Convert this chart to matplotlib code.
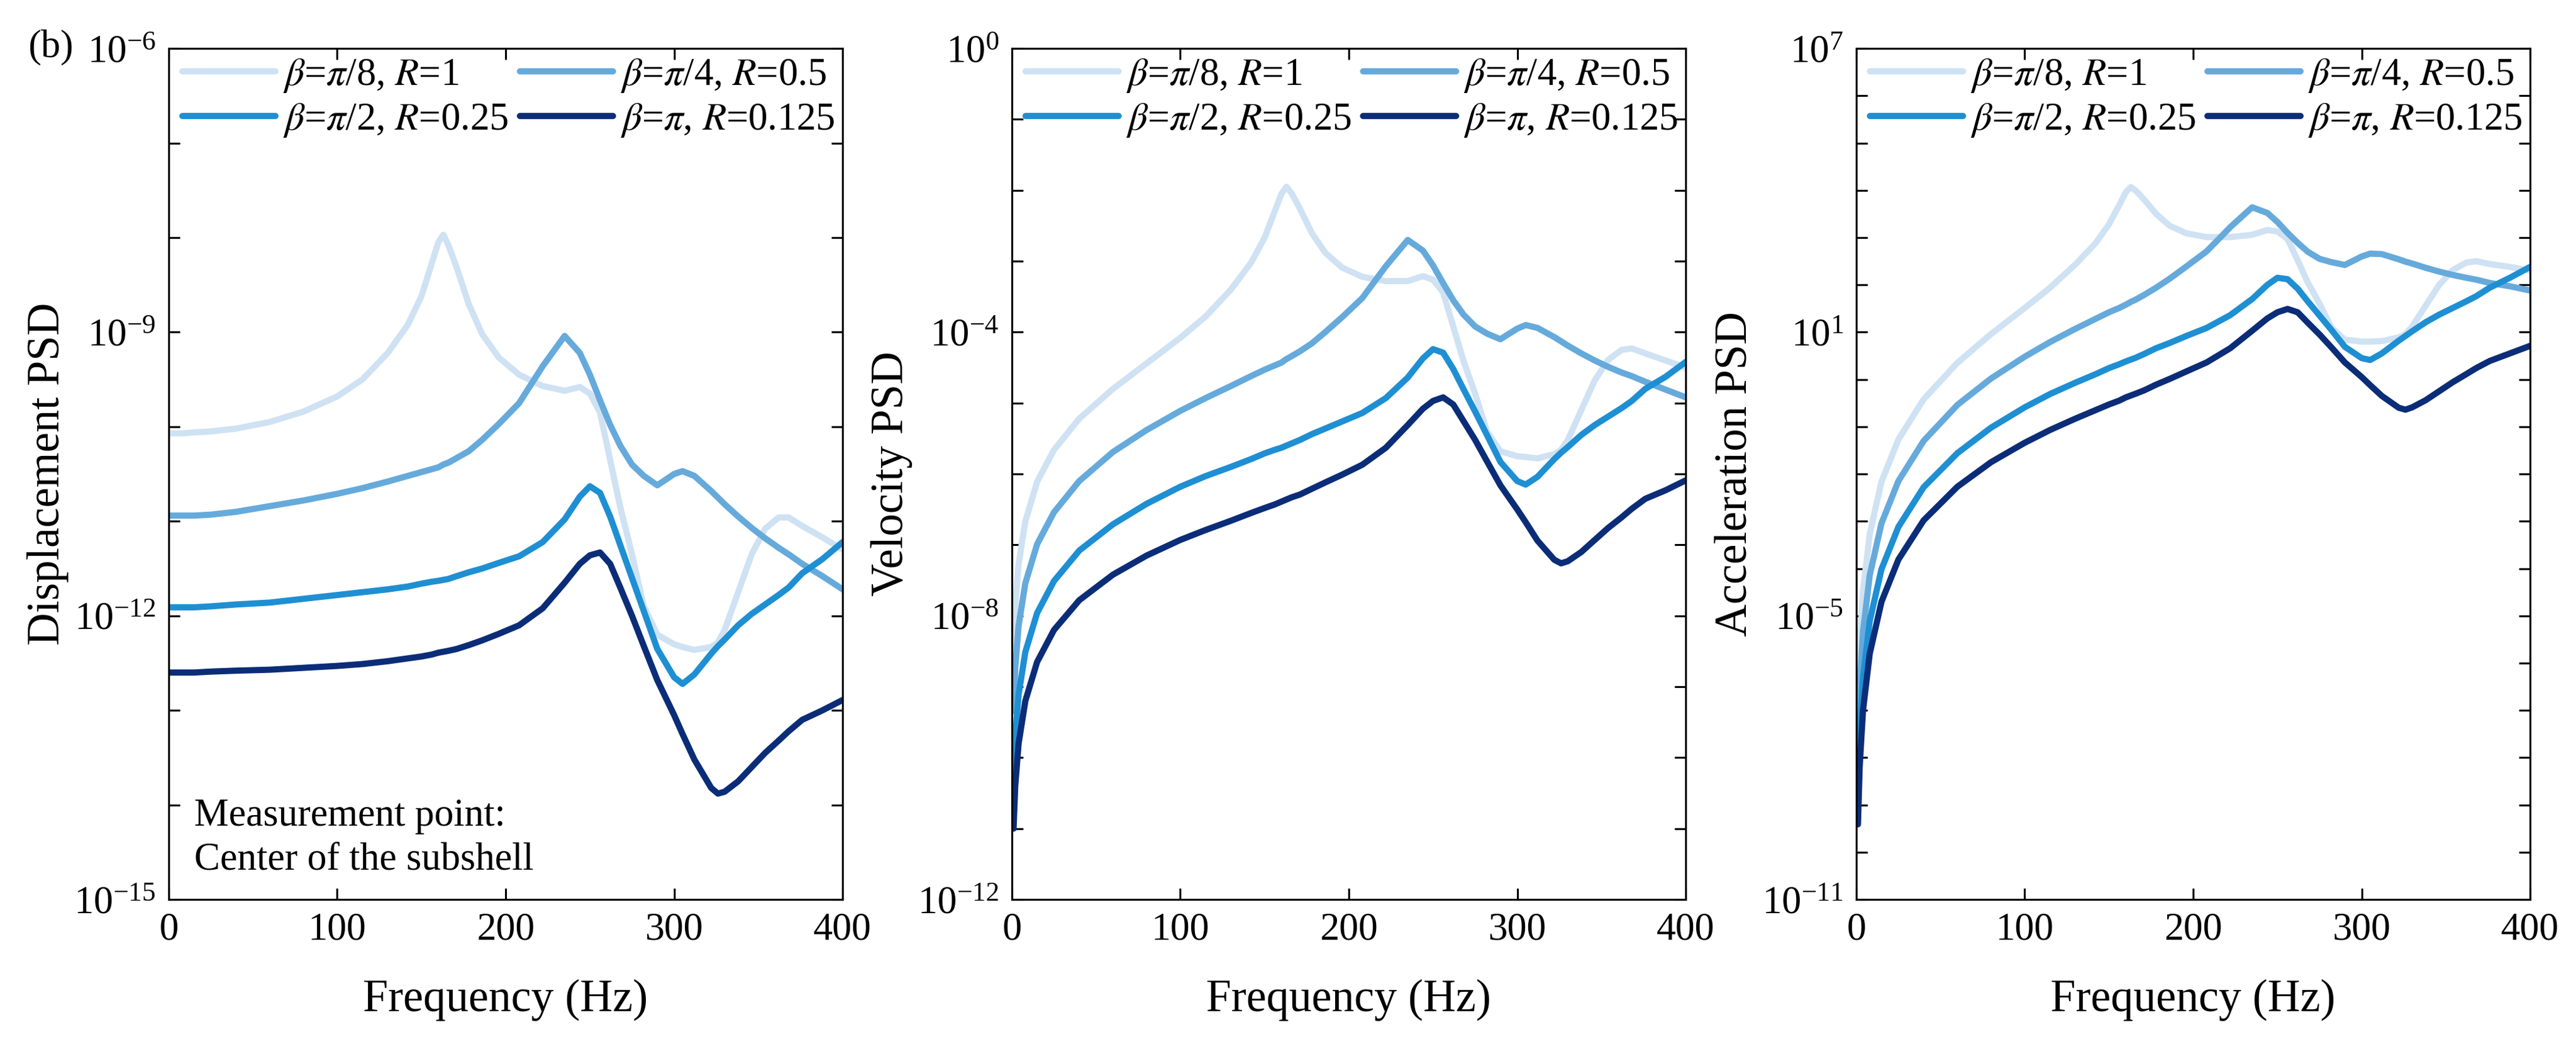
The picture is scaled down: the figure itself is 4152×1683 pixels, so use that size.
import matplotlib
matplotlib.use("Agg")
import matplotlib.pyplot as plt
import numpy as np
from matplotlib.ticker import FixedLocator, NullFormatter

plt.rcParams['font.family'] = ['Liberation Serif', 'DejaVu Serif']
plt.rcParams['mathtext.fontset'] = 'stix'

# frequency grid (Hz) shared by all curves
freq = [1, 2, 4, 8, 15, 25, 40, 60, 80, 100, 115, 130, 142, 150, 156, 160, 163, 166,
        171, 178, 186, 196, 208, 222, 235, 244, 250, 256, 262, 268, 275, 282, 290,
        300, 305, 312, 322, 326, 330, 338, 346, 354, 362, 368, 376, 388, 400]

# values are log10(PSD)
# beta=pi/8, R=1
disp_pi8 = [-10.07, -10.07, -10.07, -10.07, -10.06, -10.05, -10.02, -9.95, -9.84, -9.68, -9.50, -9.22,
            -8.92, -8.62, -8.28, -8.05, -7.97, -8.08, -8.32, -8.70, -9.02, -9.27, -9.45, -9.57, -9.62,
            -9.58, -9.65, -9.85, -10.35, -10.85, -11.35, -11.90, -12.20, -12.30, -12.33, -12.36, -12.33,
            -12.28, -12.15, -11.75, -11.35, -11.08, -10.96, -10.96, -11.05, -11.17, -11.30]
vel_pi8 = [-8.47, -7.87, -7.27, -6.67, -6.11, -5.66, -5.22, -4.80, -4.44, -4.08, -3.78, -3.40,
           -3.02, -2.67, -2.30, -2.05, -1.95, -2.04, -2.26, -2.60, -2.88, -3.09, -3.22, -3.28, -3.28,
           -3.21, -3.26, -3.44, -3.92, -4.40, -4.87, -5.40, -5.68, -5.75, -5.76, -5.78, -5.72,
           -5.66, -5.52, -5.10, -4.68, -4.39, -4.25, -4.23, -4.30, -4.40, -4.50]
acc_pi8 = [-6.88, -5.67, -4.47, -3.27, -2.16, -1.27, -0.42, 0.35, 0.96, 1.51, 1.94, 2.43,
           2.88, 3.28, 3.68, 3.96, 4.07, 3.99, 3.80, 3.50, 3.25, 3.09, 3.01, 3.01, 3.06,
           3.16, 3.13, 2.97, 2.52, 2.05, 1.60, 1.10, 0.84, 0.80, 0.80, 0.81, 0.89,
           0.96, 1.12, 1.56, 2.00, 2.31, 2.47, 2.50, 2.44, 2.38, 2.30]

# beta=pi/4, R=0.5
disp_pi4 = [-10.94, -10.94, -10.94, -10.94, -10.94, -10.93, -10.90, -10.84, -10.78, -10.71, -10.65, -10.58,
            -10.52, -10.48, -10.45, -10.43, -10.40, -10.38, -10.33, -10.26, -10.14, -9.97, -9.75, -9.36, -9.04,
            -9.22, -9.45, -9.72, -9.98, -10.20, -10.40, -10.52, -10.62, -10.50, -10.47, -10.52, -10.68,
            -10.75, -10.82, -10.95, -11.07, -11.18, -11.28, -11.35, -11.45, -11.58, -11.72]
vel_pi4 = [-9.34, -8.74, -8.14, -7.54, -6.99, -6.54, -6.10, -5.69, -5.38, -5.11, -4.93, -4.76,
           -4.62, -4.53, -4.47, -4.43, -4.38, -4.34, -4.27, -4.16, -4.00, -3.79, -3.52, -3.07, -2.70,
           -2.85, -3.06, -3.31, -3.55, -3.75, -3.92, -4.02, -4.10, -3.95, -3.90, -3.94, -4.07,
           -4.13, -4.19, -4.30, -4.40, -4.49, -4.57, -4.62, -4.70, -4.81, -4.92]
acc_pi4 = [-7.75, -6.54, -5.34, -4.14, -3.04, -2.15, -1.30, -0.54, 0.02, 0.48, 0.79, 1.07,
           1.28, 1.42, 1.51, 1.58, 1.64, 1.69, 1.79, 1.94, 2.13, 2.39, 2.71, 3.22, 3.64,
           3.52, 3.33, 3.10, 2.89, 2.70, 2.55, 2.48, 2.42, 2.60, 2.66, 2.65, 2.54,
           2.49, 2.45, 2.36, 2.28, 2.21, 2.15, 2.11, 2.04, 1.97, 1.88]

# beta=pi/2, R=0.25
disp_pi2 = [-11.91, -11.91, -11.91, -11.91, -11.91, -11.90, -11.88, -11.86, -11.82, -11.78, -11.75, -11.72,
            -11.69, -11.66, -11.64, -11.63, -11.62, -11.61, -11.58, -11.54, -11.50, -11.44, -11.37, -11.22, -10.98,
            -10.74, -10.63, -10.70, -10.95, -11.25, -11.60, -11.95, -12.35, -12.65, -12.72, -12.62, -12.40,
            -12.32, -12.25, -12.10, -11.98, -11.88, -11.78, -11.70, -11.55, -11.40, -11.22]
vel_pi2 = [-10.31, -9.71, -9.11, -8.51, -7.96, -7.51, -7.08, -6.71, -6.42, -6.18, -6.03, -5.90,
           -5.79, -5.71, -5.66, -5.63, -5.60, -5.57, -5.52, -5.44, -5.36, -5.26, -5.14, -4.93, -4.64,
           -4.37, -4.24, -4.29, -4.52, -4.80, -5.12, -5.45, -5.83, -6.10, -6.15, -6.04, -5.79,
           -5.70, -5.62, -5.45, -5.31, -5.19, -5.07, -4.97, -4.80, -4.63, -4.42]
acc_pi2 = [-8.72, -7.51, -6.31, -5.11, -4.01, -3.12, -2.28, -1.56, -1.02, -0.59, -0.31, -0.07,
           0.11, 0.24, 0.32, 0.38, 0.42, 0.46, 0.54, 0.66, 0.77, 0.92, 1.09, 1.36, 1.70,
           2.00, 2.15, 2.12, 1.92, 1.65, 1.35, 1.05, 0.69, 0.45, 0.41, 0.55, 0.82,
           0.92, 1.02, 1.21, 1.37, 1.51, 1.65, 1.76, 1.94, 2.15, 2.38]

# beta=pi, R=0.125
disp_pi = [-12.60, -12.60, -12.60, -12.60, -12.60, -12.59, -12.58, -12.57, -12.55, -12.53, -12.51, -12.48,
           -12.45, -12.43, -12.41, -12.39, -12.38, -12.37, -12.35, -12.31, -12.26, -12.19, -12.10, -11.92, -11.65,
           -11.45, -11.36, -11.33, -11.45, -11.70, -12.00, -12.32, -12.68, -13.05, -13.25, -13.52, -13.82,
           -13.88, -13.86, -13.75, -13.60, -13.45, -13.32, -13.22, -13.10, -13.00, -12.89]
vel_pi = [-11.00, -10.40, -9.80, -9.20, -8.65, -8.20, -7.78, -7.42, -7.15, -6.93, -6.79, -6.66,
          -6.55, -6.48, -6.43, -6.39, -6.36, -6.33, -6.29, -6.21, -6.12, -6.01, -5.87, -5.63, -5.31,
          -5.08, -4.97, -4.92, -5.02, -5.25, -5.52, -5.82, -6.16, -6.50, -6.68, -6.94, -7.21,
          -7.26, -7.23, -7.10, -6.93, -6.76, -6.61, -6.49, -6.35, -6.23, -6.09]
acc_pi = [-9.41, -8.20, -7.00, -5.80, -4.70, -3.81, -2.98, -2.27, -1.75, -1.34, -1.07, -0.83,
          -0.65, -0.53, -0.45, -0.38, -0.34, -0.30, -0.23, -0.11, 0.01, 0.17, 0.36, 0.66, 1.03,
          1.29, 1.42, 1.49, 1.42, 1.20, 0.95, 0.68, 0.36, 0.05, -0.12, -0.35, -0.60,
          -0.64, -0.59, -0.44, -0.25, -0.06, 0.11, 0.24, 0.39, 0.55, 0.71]

labels = [r'$\beta$=$\pi$/8, $R$=1', r'$\beta$=$\pi$/4, $R$=0.5',
          r'$\beta$=$\pi$/2, $R$=0.25', r'$\beta$=$\pi$, $R$=0.125']
colors = ['#cfe2f3', '#66aadc', '#1f8fd3', '#0b2d78']

panels = [
    ("Displacement PSD", [disp_pi8, disp_pi4, disp_pi2, disp_pi], (-15, -6), [-15, -12, -9, -6]),
    ("Velocity PSD", [vel_pi8, vel_pi4, vel_pi2, vel_pi], (-12, 0), [-12, -8, -4, 0]),
    ("Acceleration PSD", [acc_pi8, acc_pi4, acc_pi2, acc_pi], (-11, 7), [-11, -5, 1, 7]),
]

fig = plt.figure(figsize=(13.84, 5.61), dpi=300)
lefts = [0.0655, 0.3928, 0.7206]
f = np.array(freq)

for i, (ylab, curves, (lo, hi), labelled) in enumerate(panels):
    ax = fig.add_axes([lefts[i], 0.1384, 0.2616, 0.8152])
    lines = []
    for vals, c, lab in zip(curves, colors, labels):
        ln, = ax.plot(f, 10.0 ** np.array(vals), color=c, lw=2.4, label=lab,
                      solid_capstyle='round', solid_joinstyle='round')
        lines.append(ln)
    ax.set_yscale('log')
    ax.set_xlim(0, 400)
    ax.set_ylim(10.0 ** lo, 10.0 ** hi)
    ax.set_xticks([0, 100, 200, 300, 400])
    ax.set_yticks([10.0 ** e for e in labelled])
    ax.yaxis.set_minor_locator(FixedLocator([10.0 ** e for e in range(lo, hi + 1)]))
    ax.yaxis.set_minor_formatter(NullFormatter())
    ax.tick_params(which='both', direction='in', top=True, right=True,
                   length=4.3, width=0.75, labelsize=15, pad=5)
    for s in ax.spines.values():
        s.set_linewidth(0.75)
    ax.set_xlabel("Frequency (Hz)", fontsize=17.5, labelpad=12)
    ax.set_ylabel(ylab, fontsize=17.5, labelpad=2)

    order = [lines[0], lines[2], lines[1], lines[3]]
    ax.legend(order, [l.get_label() for l in order], ncol=2, frameon=False,
              loc='upper left', bbox_to_anchor=(0.02, 0.99), fontsize=15,
              handlelength=2.4, handletextpad=0.2, columnspacing=0.3,
              labelspacing=0.2, borderpad=0, borderaxespad=0)

    if i == 0:
        ax.text(0.038, 0.025, "Measurement point:\nCenter of the subshell",
                transform=ax.transAxes, fontsize=15, ha='left', va='bottom',
                linespacing=1.3)

fig.text(0.011, 0.9537, "(b)", fontsize=15, ha='left', va='center')

fig.savefig("out.png", dpi=300)
